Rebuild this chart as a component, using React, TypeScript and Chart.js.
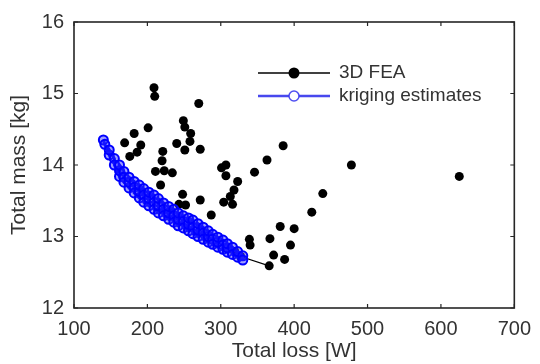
import React, { useEffect, useRef } from "react";
import { Chart, registerables } from "chart.js";

Chart.register(...registerables);

// ---- data ----
const feaLoss = [
  209, 210, 270, 201, 182, 169, 191, 186, 176,
  249, 251, 259, 258, 240, 251, 272, 221, 220,
  211, 223, 234, 218,
  301, 307, 307, 323, 346, 363, 385, 478, 625,
  439, 424, 381, 400, 367, 395, 339, 340, 372, 387, 366,
  318, 313, 304, 316, 248, 272, 243, 252, 287,
  319, 327,
];
const feaMass = [
  15.08, 14.96, 14.86, 14.52, 14.44, 14.31, 14.28, 14.18, 14.12,
  14.62, 14.53, 14.44, 14.33, 14.30, 14.21, 14.22, 14.19, 14.06,
  13.91, 13.92, 13.89, 13.72,
  13.96, 14.0, 13.85, 13.77, 13.90, 14.07, 14.27, 14.00, 13.84,
  13.60, 13.34, 13.14, 13.11, 12.97, 12.88, 12.96, 12.88, 12.74, 12.68, 12.59,
  13.65, 13.56, 13.48, 13.45, 13.59, 13.51, 13.45, 13.44, 13.30,
  12.79, 12.72,
];

const frontLoss = [305, 327, 366];
const frontMass = [12.82, 12.72, 12.59];

const krigLoss = [
  140,
  142,
  148, 148,
  155, 155,
  162, 162, 162,
  168, 168, 168,
  175, 175, 175,
  182, 182, 182,
  189, 189, 189,
  195, 195, 195,
  202, 202, 202,
  209, 209, 209,
  215, 215, 215,
  222, 222, 222,
  229, 229, 229,
  236, 236, 236,
  242, 242, 242,
  249, 249, 249,
  256, 256, 256,
  262, 262, 262,
  269, 269, 269,
  276, 276, 276,
  283, 283, 283,
  289, 289, 289,
  296, 296, 296,
  303, 303, 303,
  309, 309, 309,
  316, 316,
  323, 323,
  330, 330,
];
const krigMass = [
  14.35,
  14.29,
  14.14, 14.21,
  14.09, 14.0,
  13.84, 13.92, 14.0,
  13.91, 13.83, 13.76,
  13.68, 13.76, 13.83,
  13.77, 13.69, 13.61,
  13.54, 13.63, 13.72,
  13.67, 13.58, 13.48,
  13.43, 13.53, 13.62,
  13.58, 13.48, 13.38,
  13.33, 13.43, 13.53,
  13.47, 13.38, 13.29,
  13.24, 13.33, 13.42,
  13.38, 13.29, 13.2,
  13.15, 13.24, 13.33,
  13.29, 13.21, 13.12,
  13.08, 13.17, 13.26,
  13.23, 13.13, 13.04,
  13.0, 13.09, 13.18,
  13.13, 13.05, 12.96,
  12.92, 13.0, 13.08,
  13.03, 12.96, 12.89,
  12.85, 12.92, 12.99,
  12.95, 12.88, 12.82,
  12.78, 12.84, 12.9,
  12.85, 12.75,
  12.71, 12.79,
  12.73, 12.67,
];

const xTickValues = [100, 200, 300, 400, 500, 600, 700];
const yTickValues = [12, 13, 14, 15, 16];
const seriesNames = ["3D FEA", "kriging estimates"];
const xTitle = "Total loss [W]";
const yTitle = "Total mass [kg]";

const FONT = "'Liberation Sans', Arial, Helvetica, sans-serif";
const TEXT = "#333333";
const FRAME = "#262626";
const BLUE = "#0000ff";

const pts = (xs: number[], ys: number[]) => xs.map((x, i) => ({ x, y: ys[i] }));

const framePlugin = {
  id: "matlabFrame",
  afterDraw(chart: any) {
    const { ctx, chartArea, scales } = chart;
    const { left, top, right, bottom } = chartArea;
    const xs = scales.x;
    const ys = scales.y;
    ctx.save();
    ctx.strokeStyle = FRAME;
    ctx.lineWidth = 1.6;
    ctx.strokeRect(left, top, right - left, bottom - top);
    ctx.beginPath();
    ctx.lineWidth = 1.2;
    xTickValues.forEach((v) => {
      const px = xs.getPixelForValue(v);
      ctx.moveTo(px, bottom);
      ctx.lineTo(px, bottom - 4);
      ctx.moveTo(px, top);
      ctx.lineTo(px, top + 4);
    });
    yTickValues.forEach((v) => {
      const py = ys.getPixelForValue(v);
      ctx.moveTo(left, py);
      ctx.lineTo(left + 4, py);
      ctx.moveTo(right, py);
      ctx.lineTo(right - 4, py);
    });
    ctx.stroke();

    // legend (MATLAB style: line + marker + text, no box)
    const lx0 = left + 184;
    const lx1 = left + 256;
    const lxm = (lx0 + lx1) / 2;
    const ly1 = top + 51;
    const ly2 = top + 74;
    ctx.beginPath();
    ctx.strokeStyle = "#000";
    ctx.lineWidth = 1.5;
    ctx.moveTo(lx0, ly1);
    ctx.lineTo(lx1, ly1);
    ctx.stroke();
    ctx.beginPath();
    ctx.fillStyle = "#000";
    ctx.arc(lxm, ly1, 5.5, 0, Math.PI * 2);
    ctx.fill();

    ctx.beginPath();
    ctx.strokeStyle = "rgba(40,40,235,0.85)";
    ctx.lineWidth = 2.5;
    ctx.moveTo(lx0, ly2);
    ctx.lineTo(lx1, ly2);
    ctx.stroke();
    ctx.beginPath();
    ctx.fillStyle = "#fff";
    ctx.strokeStyle = "rgba(60,60,240,0.9)";
    ctx.lineWidth = 1.5;
    ctx.arc(lxm, ly2, 5, 0, Math.PI * 2);
    ctx.fill();
    ctx.stroke();

    ctx.fillStyle = TEXT;
    ctx.font = `19px ${FONT}`;
    ctx.textBaseline = "middle";
    ctx.textAlign = "left";
    ctx.fillText(seriesNames[0], lx1 + 9, ly1);
    ctx.fillText(seriesNames[1], lx1 + 9, ly2);
    ctx.restore();
  },
};

export default function App() {
  const ref = useRef<HTMLCanvasElement | null>(null);

  useEffect(() => {
    if (!ref.current) return;
    const chart = new Chart(ref.current, {
      type: "scatter",
      data: {
        datasets: [
          {
            label: seriesNames[1],
            data: pts(krigLoss, krigMass),
            showLine: true,
            borderColor: BLUE,
            borderWidth: 3,
            pointRadius: 4.5,
            pointBorderWidth: 2,
            pointBorderColor: BLUE,
            pointBackgroundColor: "rgba(40,40,255,0.45)",
            order: 0,
          },
          {
            label: seriesNames[0],
            data: pts(feaLoss, feaMass),
            showLine: false,
            pointRadius: 4.5,
            pointBorderWidth: 0,
            pointBackgroundColor: "#000",
            pointBorderColor: "#000",
            order: 1,
          },
          {
            label: "front",
            data: pts(frontLoss, frontMass),
            showLine: true,
            borderColor: "#000",
            borderWidth: 1.2,
            pointRadius: 0,
            order: 2,
          },
        ],
      },
      options: {
        responsive: false,
        animation: false,
        layout: { padding: { top: 16, right: 19, left: 0, bottom: 0 } },
        plugins: {
          legend: { display: false },
          tooltip: { enabled: false },
        },
        scales: {
          x: {
            type: "linear",
            min: 100,
            max: 700,
            afterFit: (s: any) => {
              s.height = 56;
            },
            afterBuildTicks: (s: any) => {
              s.ticks = xTickValues.map((v) => ({ value: v }));
            },
            grid: { display: false, drawTicks: false },
            border: { display: false },
            ticks: {
              padding: 9,
              color: TEXT,
              font: { family: FONT, size: 20 },
              maxRotation: 0,
            },
            title: {
              display: true,
              text: xTitle,
              color: TEXT,
              font: { family: FONT, size: 21 },
              padding: { top: 0, bottom: 0 },
            },
          },
          y: {
            type: "linear",
            min: 12,
            max: 16,
            afterFit: (s: any) => {
              s.width = 74;
            },
            afterBuildTicks: (s: any) => {
              s.ticks = yTickValues.map((v) => ({ value: v }));
            },
            grid: { display: false, drawTicks: false },
            border: { display: false },
            ticks: {
              padding: 10,
              color: TEXT,
              font: { family: FONT, size: 20 },
            },
            title: {
              display: true,
              text: yTitle,
              color: TEXT,
              font: { family: FONT, size: 21 },
              padding: { top: 7, bottom: 0 },
            },
          },
        },
      },
      plugins: [framePlugin],
    });
    return () => chart.destroy();
  }, []);

  return (
    <div style={{ position: "fixed", left: 0, top: 0, width: 540, height: 364, background: "#fff" }}>
      <canvas ref={ref} width={540} height={364} style={{ display: "block" }} />
    </div>
  );
}
